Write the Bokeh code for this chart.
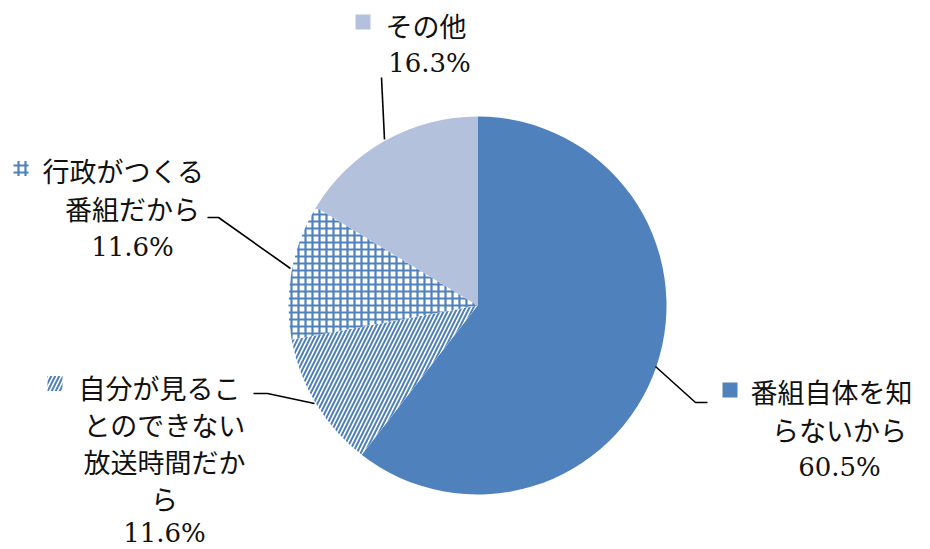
import math
from bokeh.plotting import figure
from bokeh.models import Range1d
from bokeh.core.properties import value
from bokeh.embed import file_html
from bokeh.resources import INLINE

# ---- data ----
categories = ["番組自体を知らないから", "自分が見ることのできない放送時間だから", "行政がつくる番組だから", "その他"]
values = [60.5, 11.6, 11.6, 16.3]
pct_labels = ["60.5%", "11.6%", "11.6%", "16.3%"]
label_lines = [
    ["番組自体を知", "らないから"],
    ["自分が見るこ", "とのできない", "放送時間だか", "ら"],
    ["行政がつくる", "番組だから"],
    ["その他"],
]
fill_colors = ["#4F81BD", "white", "white", "#B3C1DD"]
hatches = [" ", "/", "+", " "]

# ---- layout (screen pixel positions of the reference) ----
W, H = 930, 549
CX, CY, R = 477, 305, 189

def dx(sx):
    return sx - CX

def dy(sy):
    return CY - sy

p = figure(width=W, height=H, output_backend="svg", toolbar_location=None,
           x_axis_type=None, y_axis_type=None, min_border=0,
           x_range=Range1d(-CX, W - CX),
           y_range=Range1d(-(H - CY), CY))
p.outline_line_color = None
p.grid.visible = False
p.background_fill_color = "white"
p.border_fill_color = "white"

def hatch_kw(h):
    if h == "/":
        return dict(hatch_pattern="/", hatch_color="#4F81BD",
                    hatch_scale=8, hatch_weight=2.0)
    if h == "+":
        return dict(hatch_pattern="+", hatch_color="#4F81BD",
                    hatch_scale=7, hatch_weight=2.2)
    return {}

# ---- pie wedges from values ----
total = sum(values)
start = math.pi / 2
starts, ends = [], []
for v in values:
    a = 2 * math.pi * v / total
    starts.append(start)
    ends.append(start - a)
    start -= a

for i in range(len(values)):
    p.wedge(x=0, y=0, radius=R, start_angle=ends[i], end_angle=starts[i],
            fill_color=fill_colors[i], line_color=None, **hatch_kw(hatches[i]))

# ---- leader lines ----
leaders_x = [
    [dx(655), dx(695), dx(707)],
    [dx(314), dx(267), dx(253)],
    [dx(290), dx(218), dx(207)],
    [dx(384), dx(381)],
]
leaders_y = [
    [dy(366), dy(402), dy(402)],
    [dy(403), dy(393), dy(393)],
    [dy(268), dy(217), dy(217)],
    [dy(139), dy(77)],
]
p.multi_line(xs=leaders_x, ys=leaders_y, line_color="black", line_width=1.6)

# ---- labels ----
jp = value("Noto Sans CJK JP")
num = value("DejaVu Serif")
FS = "27px"
NFS = "26px"

sq = [(729.5, 389.5), (54.5, 383), (20.5, 168), (362.5, 21.5)]
first_x = [750, 78, 42, 385]
first_y = [391, 387, 170, 25]
line_gap = [37.5, 37.0, 38.0, 37.5]
centre_x = [839, 164, 132, 429]

for i in range(len(values)):
    p.rect(x=dx(sq[i][0]), y=dy(sq[i][1]), width=15, height=15,
           fill_color=fill_colors[i], line_color=None, **hatch_kw(hatches[i]))
    lines = label_lines[i]
    p.text(x=[dx(first_x[i])], y=[dy(first_y[i])], text=[lines[0]],
           text_font=jp, text_font_size=FS, text_align="left",
           text_baseline="middle", text_color="#111111")
    y = first_y[i]
    for ln in lines[1:]:
        y += line_gap[i]
        p.text(x=[dx(centre_x[i])], y=[dy(y)], text=[ln],
               text_font=jp, text_font_size=FS, text_align="center",
               text_baseline="middle", text_color="#111111")
    y += line_gap[i] - (3 if len(lines) > 3 else 0)
    p.text(x=[dx(centre_x[i])], y=[dy(y)], text=[pct_labels[i]],
           text_font=num, text_font_size=NFS, text_align="center",
           text_baseline="middle", text_color="#111111")

open("out.html", "w").write(file_html(p, INLINE))
